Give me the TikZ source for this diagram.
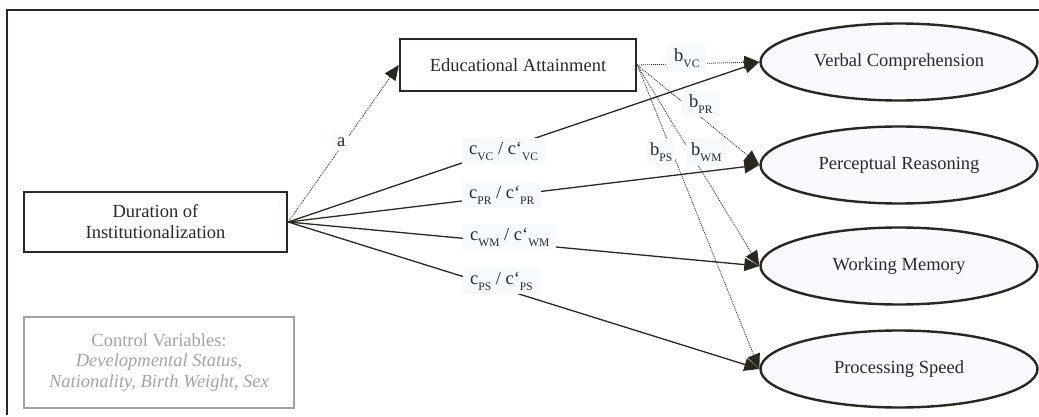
\documentclass[tikz,border=0pt]{standalone}
\usepackage{fontspec}
\setmainfont{Liberation Serif}
\usetikzlibrary{shapes.geometric,arrows.meta}
\definecolor{ink}{HTML}{2B2720}
\definecolor{txt}{HTML}{2A2A2A}
\definecolor{ctl}{HTML}{A3A3A3}
\definecolor{efill}{HTML}{F8FAFE}
\definecolor{lfill}{HTML}{F6F9FE}
\newcommand{\lsub}[1]{\raisebox{-6pt}{\fontsize{11.5}{11.5}\selectfont #1}}
\tikzset{
  big/.style={font=\fontsize{18.5}{21}\selectfont},
  rbox/.style={draw=ink, line width=2.4pt, fill=white, text=txt, big, align=center, inner sep=0pt},
  latent/.style={ellipse, draw=ink, line width=2.4pt, fill=efill, text=txt, big, minimum width=277pt, minimum height=77pt, inner sep=0pt},
  lbl/.style={fill=lfill, text=txt, big, inner xsep=7pt, inner ysep=4pt, anchor=west},
  sline/.style={draw=ink, line width=1.3pt, -{Triangle[length=15pt,width=13pt]}},
  dline/.style={draw=ink, line width=0.8pt, dash pattern=on 1pt off 1pt, -{Triangle[length=15pt,width=13pt]}},
}
\begin{document}
\begin{tikzpicture}[x=1pt,y=-1pt]
\useasboundingbox (0,0) rectangle (1039,417);
\draw[ink, line width=2pt] (7,415) -- (7,10) -- (1039,10);

\node[rbox, minimum width=263pt, minimum height=60pt] (dur) at (155.5,222) {Duration of\\Institutionalization};
\node[rbox, minimum width=236pt, minimum height=52pt] (edu) at (518,65) {Educational Attainment};
\node[draw=ctl, line width=2pt, text=ctl, big, align=center, minimum width=270pt, minimum height=91pt, inner sep=0pt, font=\fontsize{18.5}{20.5}\selectfont] (ctrl) at (159,362.5) {Control Variables:\\\textit{Developmental Status,}\\\textit{Nationality, Birth Weight, Sex}};

\node[latent] (vc) at (899,62) {Verbal Comprehension};
\node[latent] (pr) at (899,165) {Perceptual Reasoning};
\node[latent] (wm) at (899,266) {Working Memory};
\node[latent] (ps) at (899,369) {Processing Speed};

% paths
\draw[dline] (dur.east) -- (edu.west);
\draw[sline] (dur.east) -- (vc.west);
\draw[sline] (dur.east) -- (pr.west);
\draw[sline] (dur.east) -- (wm.west);
\draw[sline] (dur.east) -- (ps.west);
\draw[dline] (edu.east) -- (vc.west);
\draw[dline] (edu.east) -- (pr.west);
\draw[dline] (edu.east) -- (wm.west);
\draw[dline] (edu.east) -- (ps.west);

% labels
\node[lbl, inner xsep=4pt] (la) at (333,142) {a};
\node[lbl] (lcvc) at (462,151) {c\lsub{VC} / c‘\lsub{VC}\hspace{12pt}};
\node[lbl] (lcpr) at (462,195) {c\lsub{PR} / c‘\lsub{PR}\hspace{12pt}};
\node[lbl] (lcwm) at (463,237) {c\lsub{WM} / c‘\lsub{WM}\hspace{6pt}};
\node[lbl] (lcps) at (463,281) {c\lsub{PS} / c‘\lsub{PS}\hspace{14pt}};
\node[lbl] (lbvc) at (667,58) {b\lsub{VC}\hspace{4pt}};
\node[lbl] (lbpr) at (682,104) {b\lsub{PR}\hspace{4pt}};
\node[lbl, inner xsep=3pt] (lbps) at (647,152) {b\lsub{PS}};
\node[lbl, inner xsep=5pt] (lbwm) at (686,152) {b\lsub{WM}};
\end{tikzpicture}
\end{document}
